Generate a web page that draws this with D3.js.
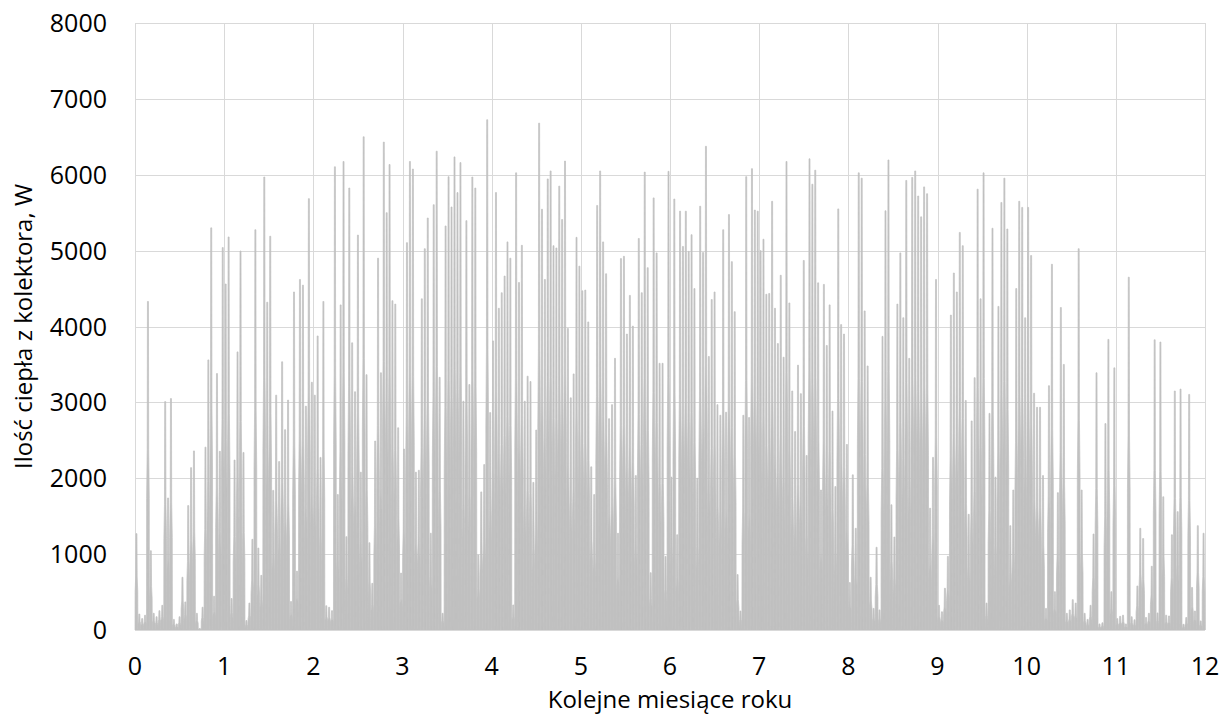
<!DOCTYPE html>
<html>
<head>
<meta charset="utf-8">
<script src="https://cdn.jsdelivr.net/npm/d3@7"></script>
<style>
  body { margin: 0; background: #fff; }
  svg text { font-family: "Open Sans", sans-serif; fill: #000; }
</style>
</head>
<body>
<div id="chart"></div>
<script>
// daily peak heat output [W], one array per month
const jan = [1270, 210, 150, 195, 4330, 1045, 220, 175, 255, 325, 3010, 1740, 3050, 140, 80, 175, 695, 370, 1640, 2140, 2360, 220, 20, 300, 2410, 3560, 5300, 445, 3380, 2355, 5040];
const feb = [4560, 5180, 415, 2240, 3665, 4995, 2340, 125, 355, 1195, 5275, 1080, 720, 5970, 4320, 5190, 1840, 3095, 2220, 3535, 2640, 3030, 375, 4455, 775, 4620, 4545, 2950, 5685, 3265];
const mar = [3095, 3875, 2275, 4330, 320, 300, 255, 6105, 1785, 4285, 6175, 1230, 5825, 3785, 3140, 5205, 2080, 6500, 3365, 1150, 615, 2490, 4900, 3390, 6430, 5500, 6135, 4340, 4295, 2665, 750];
const apr = [2385, 5105, 6175, 6075, 2080, 2105, 4365, 5025, 5430, 1275, 5605, 6310, 3330, 220, 5325, 5975, 5575, 6235, 5765, 6160, 3015, 5395, 3235, 5970, 5825, 990, 1820, 2180, 6725, 2865];
const may = [3810, 5765, 4240, 4445, 4665, 5115, 4900, 330, 6025, 4580, 5070, 3015, 3345, 3275, 1945, 2635, 6680, 5545, 4620, 5945, 6050, 5065, 5035, 5850, 5410, 6180, 3975, 3060, 3375, 5175, 4795];
const jun = [4470, 4480, 4060, 2150, 1785, 5595, 6050, 5115, 4695, 2785, 2970, 3580, 1275, 4895, 4925, 3900, 4410, 4005, 2035, 5160, 4445, 6035, 4775, 755, 5695, 4970, 3515, 3515, 970, 6045];
const jul = [2015, 5680, 1255, 5520, 5055, 5520, 4990, 5210, 4500, 2000, 5585, 4975, 6375, 3605, 4355, 4455, 2970, 2830, 5275, 2870, 5475, 4855, 4195, 730, 250, 2830, 5975, 2800, 6080, 5535, 5520];
const aug = [5000, 5150, 4425, 4435, 5650, 4240, 3775, 4675, 3595, 6175, 4310, 3150, 2615, 3490, 3115, 4870, 2300, 6210, 5875, 6060, 4575, 1845, 4555, 3750, 4285, 2885, 1890, 5550, 4025, 3900, 2445];
const sep = [625, 2045, 1340, 6025, 5955, 4205, 3480, 695, 285, 1090, 265, 3870, 5525, 6195, 1650, 1225, 4295, 4970, 4115, 5925, 3580, 5965, 6050, 5720, 5445, 5840, 5750, 1605, 2275, 4620];
const oct = [325, 240, 550, 970, 4150, 4705, 4455, 5240, 5065, 3025, 1525, 2755, 3325, 5810, 4365, 6025, 355, 2855, 5295, 2015, 4265, 5635, 5955, 5285, 1375, 1845, 4500, 5650, 5570, 4115];
const nov = [5570, 4935, 3120, 2935, 2935, 2035, 285, 3220, 4820, 505, 1810, 4250, 3500, 220, 265, 400, 355, 5025, 1845, 220, 140, 325, 1265, 3390, 80, 95, 2720, 3830, 505, 3455];
const dec = [150, 180, 195, 80, 4650, 175, 135, 580, 1340, 1205, 165, 220, 840, 3825, 225, 3795, 1755, 195, 185, 1255, 3150, 1560, 3175, 75, 165, 3105, 560, 250, 1375, 120, 1275];

const monthly = [jan, feb, mar, apr, may, jun, jul, aug, sep, oct, nov, dec];
const xTicks = [0, 1, 2, 3, 4, 5, 6, 7, 8, 9, 10, 11, 12];
const yTicks = [0, 1000, 2000, 3000, 4000, 5000, 6000, 7000, 8000];
const xTitle = 'Kolejne miesiące roku';
const yTitle = 'Ilość ciepła z kolektora, W';

const width = 1223, height = 722;
const margin = {top: 23, right: 18, bottom: 92, left: 135};
const gridColor = '#d9d9d9', barColor = '#c0c0c0';
// outline of one day's spike: [fraction of the day, fraction of that day's peak]
const dayShape = [[0, 0], [0.04, 0.4], [0.24, 0.55], [0.5, 1], [0.5, 1], [0.76, 0.55], [0.96, 0.4], [1, 0]];
const tipHalf = 0.5; // px

const svg = d3.select('#chart').append('svg')
    .attr('width', width)
    .attr('height', height);

const x = d3.scaleLinear().domain([0, 12]).range([margin.left, width - margin.right]);
const y = d3.scaleLinear().domain([0, 8000]).range([height - margin.bottom, margin.top]);

// grid
svg.append('g').selectAll('line')
    .data(yTicks).enter().append('line')
    .attr('x1', x(0)).attr('x2', x(12))
    .attr('y1', d => Math.round(y(d)) + 0.5).attr('y2', d => Math.round(y(d)) + 0.5)
    .attr('stroke', gridColor).attr('stroke-width', 1);
svg.append('g').selectAll('line')
    .data(xTicks).enter().append('line')
    .attr('x1', d => Math.round(x(d)) + 0.5).attr('x2', d => Math.round(x(d)) + 0.5)
    .attr('y1', y(0)).attr('y2', y(8000))
    .attr('stroke', gridColor).attr('stroke-width', 1);

// one spike per day
const days = [];
monthly.forEach((arr, m) => {
  arr.forEach((v, i) => {
    days.push({start: m + i / arr.length, end: m + (i + 1) / arr.length, v: v});
  });
});

const line = d3.line();
svg.append('g').selectAll('path')
    .data(days).enter().append('path')
    .attr('d', d => {
      const x0 = x(d.start), w = x(d.end) - x(d.start);
      const pts = dayShape.map((p, k) => {
        let px = x0 + p[0] * w;
        if (k === 3) px -= tipHalf;
        if (k === 4) px += tipHalf;
        return [px, y(d.v * p[1])];
      });
      return line(pts) + 'Z';
    })
    .attr('fill', barColor)
    .attr('stroke', barColor)
    .attr('stroke-width', 0.7)
    .attr('stroke-linejoin', 'miter');

// axis line along the bottom
svg.append('line')
    .attr('x1', x(0)).attr('x2', x(12))
    .attr('y1', Math.round(y(0)) + 0.5).attr('y2', Math.round(y(0)) + 0.5)
    .attr('stroke', gridColor);

// tick labels
svg.append('g').selectAll('text')
    .data(yTicks).enter().append('text')
    .attr('x', 107).attr('y', d => y(d))
    .attr('dy', '0.36em')
    .attr('text-anchor', 'end')
    .style('font-size', '25px')
    .text(d => d);

svg.append('g').selectAll('text')
    .data(xTicks).enter().append('text')
    .attr('x', d => x(d)).attr('y', 666)
    .attr('dy', '0.36em')
    .attr('text-anchor', 'middle')
    .style('font-size', '25px')
    .text(d => d);

// axis titles
svg.append('text')
    .attr('x', x(6)).attr('y', 708)
    .attr('text-anchor', 'middle')
    .style('font-size', '24px')
    .text(xTitle);

svg.append('text')
    .attr('transform', 'translate(32,' + (y(0) + y(8000)) / 2 + ') rotate(-90)')
    .attr('text-anchor', 'middle')
    .style('font-size', '24px')
    .text(yTitle);
</script>
</body>
</html>
